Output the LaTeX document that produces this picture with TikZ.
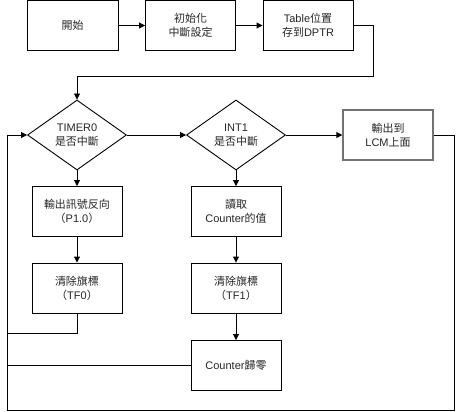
\documentclass[tikz,border=0pt]{standalone}
\usepackage{fontspec}
\setmainfont{Liberation Sans}
\newfontfamily\cjk{Noto Sans CJK TC}
\usetikzlibrary{positioning,shapes.geometric,arrows.meta}

\tikzset{
  block/.style={draw, line width=0.9pt, minimum width=90pt, minimum height=50pt,
                align=center, inner sep=2pt, text=black!85},
  decide/.style={draw, diamond, line width=0.9pt, minimum width=99pt, minimum height=70pt,
                 aspect=1.41, inner sep=0pt, align=center, text=black!85},
  output/.style={block, draw=black!55, line width=1.4pt},
  link/.style={line width=0.9pt}
}

\begin{document}
\begin{tikzpicture}[x=1pt,y=-1pt,node distance=118pt,on grid,>={Triangle[length=6pt,width=6pt]},
                    font=\fontsize{11}{14}\selectfont]
   \useasboundingbox (0,0) rectangle (456,412);
   \node[block,minimum width=91pt] (start) at (72.5,25.5)  {{\cjk 開始}};
   \node[block]  (init)  [right=118pt of start]  {{\cjk 初始化}\\{\cjk 中斷設定}};
   \node[block]  (table) [right=117.5pt of init] {Table{\cjk 位置}\\{\cjk 存到}DPTR};
   \node[decide] (t0)    at (77,135)             {TIMER0\\{\cjk 是否中斷}};
   \node[decide] (int1)  [right=159pt of t0]     {INT1\\{\cjk 是否中斷}};
   \node[output] (lcm)   [right=152pt of int1]   {{\cjk 輸出到}\\LCM{\cjk 上面}};
   \node[block]  (out)   [below=76.5pt of t0]    {{\cjk 輸出訊號反向}\\{\cjk （}P1.0{\cjk ）}};
   \node[block]  (tf0)   [below=76.5pt of out]   {{\cjk 清除旗標}\\{\cjk （}TF0{\cjk ）}};
   \node[block]  (read)  [below=76.5pt of int1]  {{\cjk 讀取}\\Counter{\cjk 的值}};
   \node[block]  (tf1)   [below=76.5pt of read]  {{\cjk 清除旗標}\\{\cjk （}TF1{\cjk ）}};
   \node[block]  (clr)   [below=77.5pt of tf1]   {Counter{\cjk 歸零}};
   \coordinate (turn) at (373,76);
   \coordinate (br)   at (454,410);
   \coordinate (bl)   at (7,410);
   \coordinate (j0)   at (7,333);
   \coordinate (j1)   at (7,365.5);
    \path[->,link]
    (start) edge (init)
    (init)  edge (table)
    (t0)    edge (int1)
            edge (out)
    (int1)  edge (lcm)
            edge (read)
    (out)   edge (tf0)
    (read)  edge (tf1)
    (tf1)   edge (clr);
   \draw[->,link] (table.east) -| (turn) -| (t0.north);
   \draw[->,link] (lcm.east) -| (br) -- (bl) |- (t0.west);
   \draw[link] (tf0.south) |- (j0);
   \draw[link] (clr.west) -- (j1);
\end{tikzpicture}
\end{document}
